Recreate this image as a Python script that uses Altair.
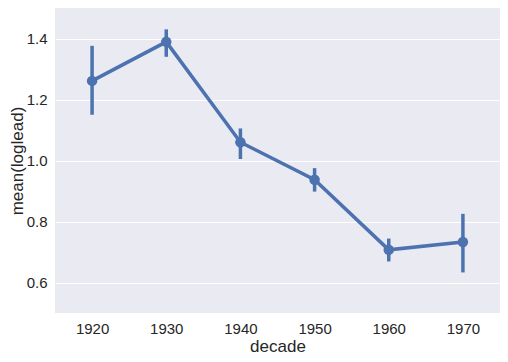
import altair as alt
import pandas as pd

decades = ["1920", "1930", "1940", "1950", "1960", "1970"]
means = [1.261, 1.389, 1.060, 0.937, 0.707, 0.733]
ci_low = [1.150, 1.340, 1.005, 0.898, 0.669, 0.633]
ci_high = [1.376, 1.430, 1.105, 0.975, 0.744, 0.825]

df = pd.DataFrame({"decade": decades, "mean": means, "lo": ci_low, "hi": ci_high})

color = "#4C72B0"
xenc = alt.X("decade:O", title="decade",
             scale=alt.Scale(type="point", padding=0.5),
             axis=alt.Axis(labelAngle=0, grid=False))
yscale = alt.Scale(domain=[0.5, 1.5], nice=False, zero=False)

line = alt.Chart(df).mark_line(color=color, strokeWidth=3.5).encode(
    x=xenc,
    y=alt.Y("mean:Q", title="mean(loglead)", scale=yscale,
            axis=alt.Axis(values=[0.6, 0.8, 1.0, 1.2, 1.4], format=".1f")),
)
pts = alt.Chart(df).mark_point(color=color, filled=True, opacity=1, size=110).encode(
    x=xenc, y=alt.Y("mean:Q", scale=yscale)
)
err = alt.Chart(df).mark_rule(color=color, strokeWidth=3.5).encode(
    x=xenc, y=alt.Y("lo:Q", scale=yscale), y2="hi:Q"
)

chart = (err + line + pts).properties(
    width=445, height=305,
    autosize=alt.AutoSizeParams(type="none"),
    padding={"left": 47, "top": 0, "right": 0, "bottom": 41},
).configure_view(fill="#EAEAF2", stroke=None).configure_axis(
    domain=False, ticks=False, gridColor="white", gridWidth=1.2,
    labelFont="Liberation Sans", titleFont="Liberation Sans",
    labelFontSize=15, titleFontSize=17, labelColor="#262626", titleColor="#262626",
    titleFontWeight="normal", labelPadding=8,
).configure_axisY(titlePadding=0).configure_axisX(titlePadding=2)

chart.save("out.html", embed_options={"renderer": "svg", "actions": False})
